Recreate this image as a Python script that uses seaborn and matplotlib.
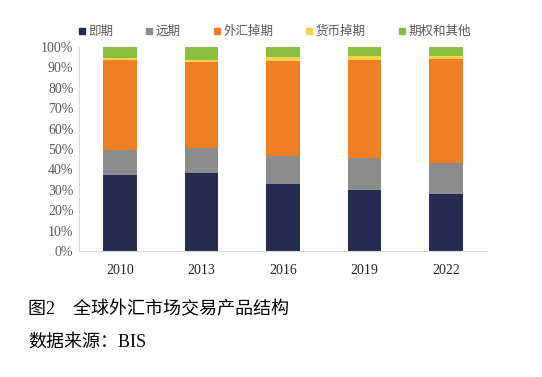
import seaborn as sns
import matplotlib.pyplot as plt
import numpy as np
import pandas as pd
from matplotlib.lines import Line2D

# data (share of turnover, %)
years = ["2010", "2013", "2016", "2019", "2022"]
spot = [37.3, 38.0, 32.8, 29.9, 27.9]
forward = [12.1, 12.6, 13.7, 15.5, 15.3]
fx_swap = [44.1, 42.1, 46.7, 48.4, 50.9]
cur_swap = [1.1, 1.1, 1.9, 1.6, 1.5]
options = [5.4, 6.2, 4.9, 4.6, 4.4]

names = ["即期", "远期", "外汇掉期", "货币掉期", "期权和其他"]
colors = ["#262C51", "#8C8C8C", "#EE7F25", "#F9D44B", "#8BBF42"]

sns.set_style("white")
plt.rcParams['font.family'] = ['Noto Sans CJK SC', 'DejaVu Sans']

df = pd.DataFrame({"year": years, "spot": spot, "forward": forward,
                   "fx_swap": fx_swap, "cur_swap": cur_swap, "options": options})
series = ["spot", "forward", "fx_swap", "cur_swap", "options"]
cum = df[series].cumsum(axis=1) / 100

fig = plt.figure(figsize=(5.42, 3.77), dpi=100)
ax = fig.add_axes([0.1458, 0.3342, 0.7527, 0.5411])

# stacked bars: draw cumulative totals from the top down
for s, c in reversed(list(zip(series, colors))):
    sns.barplot(x=df["year"], y=cum[s], color=c, width=0.41, ax=ax,
                saturation=1, linewidth=0)

ax.set_ylim(0, 1)
ax.set_xlim(-0.5, 4.5)
ax.set_yticks(np.arange(0, 1.01, 0.1))
ax.set_yticklabels([f"{int(v)}%" for v in np.arange(0, 101, 10)],
                   family="Liberation Serif", fontsize=10, color="#595959")
ax.set_xticks(range(len(years)))
ax.set_xticklabels(years, family="Liberation Serif", fontsize=10, color="#262626")
ax.set_xlabel("")
ax.set_ylabel("")
ax.tick_params(axis="both", length=0, pad=4)
ax.tick_params(axis="x", pad=9)
for side in ["top", "right"]:
    ax.spines[side].set_visible(False)
for side in ["left", "bottom"]:
    ax.spines[side].set_color("#D9D9D9")
    ax.spines[side].set_linewidth(0.8)

handles = [Line2D([], [], marker="s", linestyle="", markersize=4.5,
                  markerfacecolor=c, markeredgecolor=c) for c in colors]
leg = ax.legend(handles, names, ncol=5, frameon=False, loc="center",
                bbox_to_anchor=(0.479, 1.075), fontsize=9, handlelength=0.6,
                handletextpad=0.2, columnspacing=2.6, labelcolor="#595959")

cap_font = ['Liberation Serif', 'Noto Sans CJK SC']
fig.text(0.052, 0.178, "图2　全球外汇市场交易产品结构", fontsize=13, color="black",
         va="center", family=cap_font)
fig.text(0.052, 0.093, "数据来源：BIS", fontsize=13, color="black",
         va="center", family=cap_font)

fig.savefig("out.png", dpi=100)
